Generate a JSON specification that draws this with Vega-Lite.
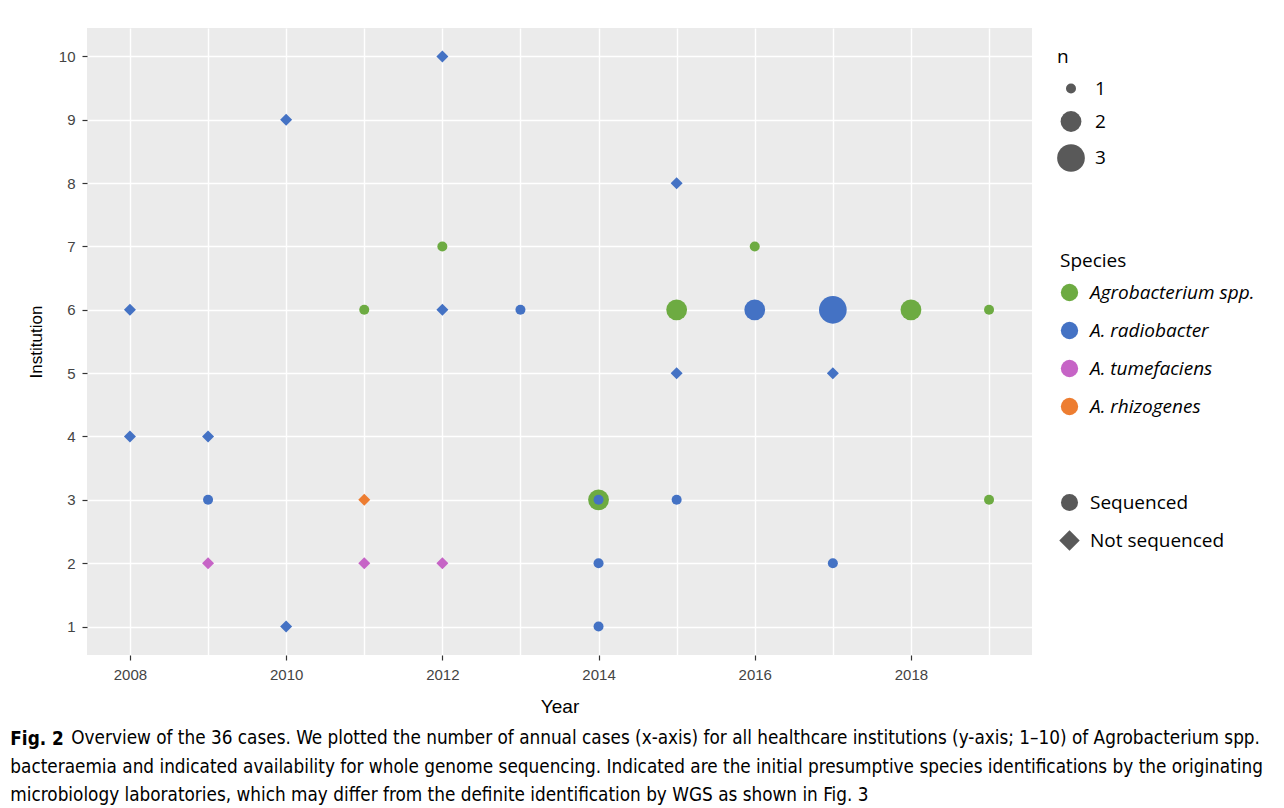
{
  "$schema": "https://vega.github.io/schema/vega-lite/v6.json",
  "autosize": {"type": "pad"},
  "padding": {"left": 10, "top": 28, "right": 5, "bottom": 5},
  "background": "white",
  "title": {
    "text": "Fig. 2",
    "subtitle": [
      "bacteraemia and indicated availability for whole genome sequencing. Indicated are the initial presumptive species identifications by the originating",
      "microbiology laboratories, which may differ from the definite identification by WGS as shown in Fig. 3"
    ],
    "orient": "bottom",
    "anchor": "start",
    "frame": "bounds",
    "font": "DejaVu Sans Condensed, Liberation Sans",
    "fontSize": 18.8,
    "fontWeight": "bold",
    "color": "black",
    "subtitleFont": "DejaVu Sans Condensed, Liberation Sans",
    "subtitleFontSize": 18.8,
    "subtitleColor": "black",
    "subtitleLineHeight": 28,
    "subtitlePadding": 9,
    "offset": -18,
    "dx": -17
  },
  "vconcat": [
    {
      "width": 945,
      "height": 627,
      "title": {
        "text": "Overview of the 36 cases. We plotted the number of annual cases (x-axis) for all healthcare institutions (y-axis; 1–10) of Agrobacterium spp.",
        "orient": "bottom",
        "anchor": "start",
        "frame": "bounds",
        "font": "DejaVu Sans Condensed, Liberation Sans",
        "fontSize": 18.8,
        "fontWeight": "normal",
        "color": "black",
        "offset": 13,
        "dx": 44
      },
      "data": {
        "values": [
          {"Year": 2008, "Institution": 6, "Species": "A. radiobacter", "Sequencing": "Not sequenced", "n": 1},
          {"Year": 2008, "Institution": 4, "Species": "A. radiobacter", "Sequencing": "Not sequenced", "n": 1},
          {"Year": 2009, "Institution": 4, "Species": "A. radiobacter", "Sequencing": "Not sequenced", "n": 1},
          {"Year": 2009, "Institution": 3, "Species": "A. radiobacter", "Sequencing": "Sequenced", "n": 1},
          {"Year": 2009, "Institution": 2, "Species": "A. tumefaciens", "Sequencing": "Not sequenced", "n": 1},
          {"Year": 2010, "Institution": 9, "Species": "A. radiobacter", "Sequencing": "Not sequenced", "n": 1},
          {"Year": 2010, "Institution": 1, "Species": "A. radiobacter", "Sequencing": "Not sequenced", "n": 1},
          {"Year": 2011, "Institution": 6, "Species": "Agrobacterium spp.", "Sequencing": "Sequenced", "n": 1},
          {"Year": 2011, "Institution": 3, "Species": "A. rhizogenes", "Sequencing": "Not sequenced", "n": 1},
          {"Year": 2011, "Institution": 2, "Species": "A. tumefaciens", "Sequencing": "Not sequenced", "n": 1},
          {"Year": 2012, "Institution": 10, "Species": "A. radiobacter", "Sequencing": "Not sequenced", "n": 1},
          {"Year": 2012, "Institution": 7, "Species": "Agrobacterium spp.", "Sequencing": "Sequenced", "n": 1},
          {"Year": 2012, "Institution": 6, "Species": "A. radiobacter", "Sequencing": "Not sequenced", "n": 1},
          {"Year": 2012, "Institution": 2, "Species": "A. tumefaciens", "Sequencing": "Not sequenced", "n": 1},
          {"Year": 2013, "Institution": 6, "Species": "A. radiobacter", "Sequencing": "Sequenced", "n": 1},
          {"Year": 2014, "Institution": 3, "Species": "Agrobacterium spp.", "Sequencing": "Sequenced", "n": 2},
          {"Year": 2014, "Institution": 3, "Species": "A. radiobacter", "Sequencing": "Sequenced", "n": 1},
          {"Year": 2014, "Institution": 2, "Species": "A. radiobacter", "Sequencing": "Sequenced", "n": 1},
          {"Year": 2014, "Institution": 1, "Species": "A. radiobacter", "Sequencing": "Sequenced", "n": 1},
          {"Year": 2015, "Institution": 8, "Species": "A. radiobacter", "Sequencing": "Not sequenced", "n": 1},
          {"Year": 2015, "Institution": 6, "Species": "Agrobacterium spp.", "Sequencing": "Sequenced", "n": 2},
          {"Year": 2015, "Institution": 5, "Species": "A. radiobacter", "Sequencing": "Not sequenced", "n": 1},
          {"Year": 2015, "Institution": 3, "Species": "A. radiobacter", "Sequencing": "Sequenced", "n": 1},
          {"Year": 2016, "Institution": 7, "Species": "Agrobacterium spp.", "Sequencing": "Sequenced", "n": 1},
          {"Year": 2016, "Institution": 6, "Species": "A. radiobacter", "Sequencing": "Sequenced", "n": 2},
          {"Year": 2017, "Institution": 6, "Species": "A. radiobacter", "Sequencing": "Sequenced", "n": 3},
          {"Year": 2017, "Institution": 5, "Species": "A. radiobacter", "Sequencing": "Not sequenced", "n": 1},
          {"Year": 2017, "Institution": 2, "Species": "A. radiobacter", "Sequencing": "Sequenced", "n": 1},
          {"Year": 2018, "Institution": 6, "Species": "Agrobacterium spp.", "Sequencing": "Sequenced", "n": 2},
          {"Year": 2019, "Institution": 6, "Species": "Agrobacterium spp.", "Sequencing": "Sequenced", "n": 1},
          {"Year": 2019, "Institution": 3, "Species": "Agrobacterium spp.", "Sequencing": "Sequenced", "n": 1}
        ]
      },
      "mark": {"type": "point", "filled": true, "opacity": 1, "strokeWidth": 0},
      "encoding": {
        "x": {
          "field": "Year",
          "type": "quantitative",
          "scale": {"domain": [2007.45, 2019.55], "nice": false, "zero": false},
          "axis": {
            "title": "Year",
            "values": [2008, 2009, 2010, 2011, 2012, 2013, 2014, 2015, 2016, 2017, 2018, 2019],
            "format": "d",
            "labelExpr": "datum.value % 2 == 0 ? datum.label : ''",
            "tickOpacity": {"condition": {"test": "datum.value % 2 == 0", "value": 1}, "value": 0},
            "labelPadding": 7,
            "titleFontSize": 19,
            "titlePadding": 15
          }
        },
        "y": {
          "field": "Institution",
          "type": "quantitative",
          "scale": {"domain": [0.55, 10.45], "nice": false, "zero": false},
          "axis": {
            "title": "Institution",
            "values": [1, 1.5, 2, 2.5, 3, 3.5, 4, 4.5, 5, 5.5, 6, 6.5, 7, 7.5, 8, 8.5, 9, 9.5, 10],
            "format": "d",
            "labelExpr": "datum.value % 1 == 0 ? datum.label : ''",
            "tickOpacity": {"condition": {"test": "datum.value % 1 == 0", "value": 1}, "value": 0},
            "labelPadding": 7,
            "titleFontSize": 17,
            "titlePadding": 13
          }
        },
        "color": {
          "field": "Species",
          "type": "nominal",
          "scale": {
            "domain": ["Agrobacterium spp.", "A. radiobacter", "A. tumefaciens", "A. rhizogenes"],
            "range": ["#6DAB42", "#4472C4", "#C664C6", "#ED7D31"]
          },
          "legend": {
            "orient": "none",
            "legendX": 973,
            "legendY": 224,
            "title": "Species",
            "symbolType": "circle",
            "symbolSize": 300,
            "labelFontStyle": "italic",
            "labelLimit": 400,
            "labelOffset": 11,
            "rowPadding": 18,
            "zindex": 1
          }
        },
        "shape": {
          "field": "Sequencing",
          "type": "nominal",
          "scale": {
            "domain": ["Sequenced", "Not sequenced"],
            "range": ["circle", "M-1.2,0L0,-1.2L1.2,0L0,1.2Z"]
          },
          "legend": {
            "orient": "none",
            "legendX": 973,
            "legendY": 465,
            "title": null,
            "symbolSize": 290,
            "symbolFillColor": "#595959",
            "labelOffset": 11,
            "rowPadding": 17
          }
        },
        "size": {
          "field": "n",
          "type": "quantitative",
          "scale": {"domain": [1, 3], "range": [100, 767], "zero": false},
          "legend": {
            "orient": "none",
            "legendX": 970,
            "legendY": 20,
            "title": "n",
            "values": [1, 2, 3],
            "format": "d",
            "symbolType": "circle",
            "symbolFillColor": "#595959",
            "rowPadding": 12
          }
        }
      }
    }
  ],
  "config": {
    "view": {"fill": "#EBEBEB", "stroke": null},
    "concat": {"spacing": 0},
    "axis": {
      "grid": true,
      "gridColor": "white",
      "gridWidth": 1.4,
      "domain": false,
      "tickColor": "#333333",
      "tickSize": 5,
      "tickWidth": 1.2,
      "labelColor": "#444444",
      "labelFont": "Liberation Sans",
      "labelFontSize": 15,
      "titleFont": "Liberation Sans",
      "titleFontWeight": "normal",
      "titleColor": "black"
    },
    "legend": {
      "titleFont": "Open Sans",
      "titleFontSize": 19,
      "titleFontWeight": "normal",
      "titleColor": "black",
      "labelFont": "Open Sans",
      "labelFontSize": 19,
      "labelColor": "black",
      "labelOffset": 10,
      "titlePadding": 12,
      "symbolStrokeWidth": 0
    }
  }
}
